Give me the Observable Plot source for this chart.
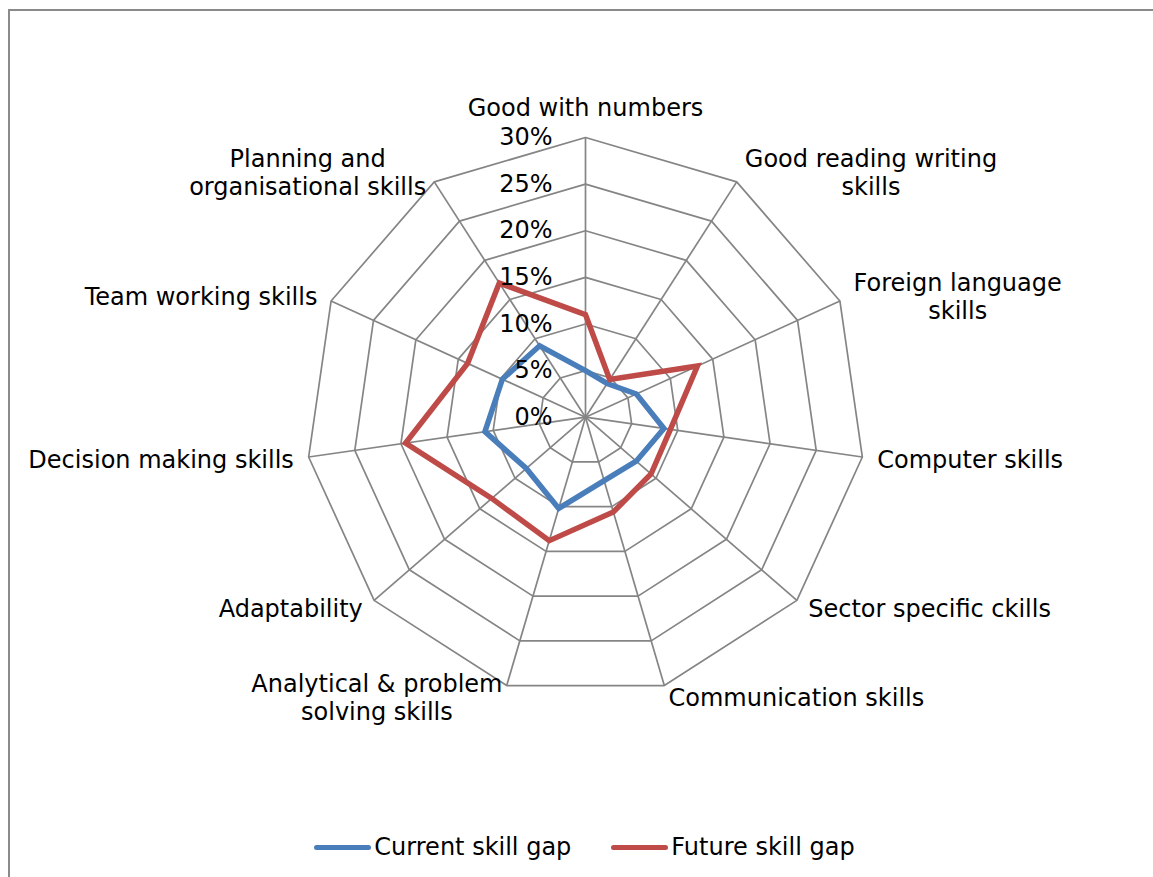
<!DOCTYPE html>
<html>
<head>
<meta charset="utf-8">
<script src="https://cdn.jsdelivr.net/npm/d3@7"></script>
<script src="https://cdn.jsdelivr.net/npm/@observablehq/plot@0.6"></script>
<style>
  html, body { margin: 0; padding: 0; background: #fff; overflow: hidden; }
  #wrap { position: relative; width: 1153px; height: 877px; font-family: "DejaVu Sans", Verdana, sans-serif; }
  #frame { position: absolute; left: 8px; top: 9px; width: 1200px; height: 900px; border-left: 2px solid #8a8a8a; border-top: 2px solid #8a8a8a; box-sizing: border-box; }
  #chart { position: absolute; left: 0; top: 0; }
  #legend { position: absolute; left: 0; top: 829px; width: 1153px; height: 36px; display: flex; justify-content: center; align-items: center; font-size: 24px; color: #000; padding-left: 16px; box-sizing: border-box; }
  .item { display: flex; align-items: center; margin: 0 20px; }
  .swatch { width: 57px; height: 5px; border-radius: 3px; margin-right: 3px; flex: none; }
</style>
</head>
<body>
<div id="wrap">
  <div id="frame"></div>
  <div id="chart"></div>
  <div id="legend"></div>
</div>
<script>
// ---- data ----
const categories = [
  "Good with numbers",
  "Good reading writing\nskills",
  "Foreign language\nskills",
  "Computer skills",
  "Sector specific ckills",
  "Communication skills",
  "Analytical & problem\nsolving skills",
  "Adaptability",
  "Decision making skills",
  "Team working skills",
  "Planning and\norganisational skills"
];
const seriesNames = ["Current skill gap", "Future skill gap"];
const currentGap = [5.0, 4.3, 6.0, 8.5, 7.2, 7.1, 10.2, 8.4, 10.9, 9.8, 9.1];
const futureGap  = [11.0, 4.8, 13.2, 9.2, 9.3, 10.6, 13.8, 13.3, 19.5, 13.9, 17.1];
const tickValues = [0, 5, 10, 15, 20, 25, 30];
const tickLabels = ["0%", "5%", "10%", "15%", "20%", "25%", "30%"];
const seriesColors = ["#4A7EBB", "#BE4B48"];

// ---- geometry ----
const W = 1153, H = 829;
const cx = 585, cy = 416.7, R = 279.7, vmax = 30;
const k = R / vmax; // px per unit
const n = categories.length;
const ang = i => (2 * Math.PI * i) / n;
const xDomain = [-cx / k, (W - cx) / k];
const yDomain = [-(H - cy) / k, cy / k];

// rings
const rings = [];
tickValues.slice(1).forEach(v => {
  for (let i = 0; i < n; i++) rings.push({ ring: v, x: v * Math.sin(ang(i)), y: v * Math.cos(ang(i)) });
});
// spokes
const spokes = categories.map((c, i) => ({ x2: vmax * Math.sin(ang(i)), y2: vmax * Math.cos(ang(i)) }));
// series
const seriesData = [];
[currentGap, futureGap].forEach((arr, s) => {
  arr.forEach((v, i) => seriesData.push({ series: seriesNames[s], x: v * Math.sin(ang(i)), y: v * Math.cos(ang(i)) }));
});
// ticks
const ticks = tickValues.map((v, i) => ({ x: 0, y: v, label: tickLabels[i] }));

// category labels (Excel-like placement next to outer vertex)
const fontSize = 24;
const ctx = document.createElement("canvas").getContext("2d");
ctx.font = `${fontSize}px "DejaVu Sans"`;
const labelData = categories.map((c, i) => {
  const a = ang(i), s = Math.sin(a), co = Math.cos(a);
  const vx = cx + R * s, vy = cy - R * co;
  const w = Math.max(...c.split("\n").map(l => ctx.measureText(l).width));
  let px, py, lineAnchor = "middle";
  if (Math.abs(s) < 0.1) {
    px = vx; py = vy - 22; lineAnchor = "bottom";
  } else {
    const pad = 15 * Math.abs(s);
    px = s > 0 ? vx + pad + w / 2 : vx - pad - w / 2;
    py = vy - 12 * co;
  }
  return { label: c, x: (px - cx) / k, y: (cy - py) / k, lineAnchor };
});

const gridColor = "#858585";
const chart = Plot.plot({
  width: W, height: H,
  margin: 0,
  style: { fontFamily: '"DejaVu Sans", Verdana, sans-serif', background: "transparent", overflow: "visible" },
  x: { domain: xDomain, axis: null },
  y: { domain: yDomain, axis: null },
  color: { domain: seriesNames, range: seriesColors },
  marks: [
    Plot.line(rings, { x: "x", y: "y", z: "ring", curve: "linear-closed", stroke: gridColor, strokeWidth: 1.7 }),
    Plot.link(spokes, { x1: 0, y1: 0, x2: "x2", y2: "y2", stroke: gridColor, strokeWidth: 1.7 }),
    Plot.line(seriesData, { x: "x", y: "y", z: "series", stroke: "series", curve: "linear-closed", strokeWidth: 5.5, strokeLinejoin: "miter", strokeMiterlimit: 10 }),
    Plot.text(ticks, { x: "x", y: "y", text: "label", textAnchor: "end", dx: -33, fontSize: fontSize, fill: "#000" }),
    Plot.text(labelData.filter(d => d.lineAnchor === "middle"), { x: "x", y: "y", text: "label", textAnchor: "middle", lineAnchor: "middle", lineHeight: 28 / fontSize, fontSize: fontSize, fill: "#000" }),
    Plot.text(labelData.filter(d => d.lineAnchor !== "middle"), { x: "x", y: "y", text: "label", textAnchor: "middle", lineAnchor: "bottom", lineHeight: 28 / fontSize, fontSize: fontSize, fill: "#000" })
  ]
});
document.getElementById("chart").appendChild(chart);

// legend
const legend = document.getElementById("legend");
seriesNames.forEach((name, i) => {
  const item = document.createElement("div");
  item.className = "item";
  const sw = document.createElement("div");
  sw.className = "swatch";
  sw.style.background = seriesColors[i];
  const t = document.createElement("span");
  t.textContent = name;
  item.appendChild(sw); item.appendChild(t);
  legend.appendChild(item);
});
</script>
</body>
</html>
